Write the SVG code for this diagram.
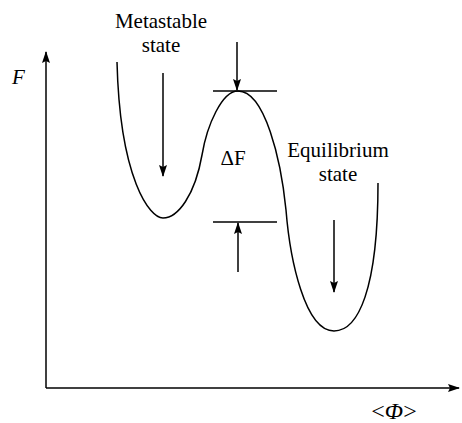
<svg xmlns="http://www.w3.org/2000/svg" width="462" height="423" viewBox="0 0 462 423">
<style>
.ln{stroke:#000;stroke-width:1.5;fill:none}
text{font-family:'Liberation Serif','Times New Roman','DejaVu Serif',serif;fill:#000;font-size:21px}
</style>
<defs>
<marker id="ax" markerUnits="userSpaceOnUse" markerWidth="12" markerHeight="8" viewBox="0 0 12 8" refX="11" refY="4" orient="auto">
<path d="M0,0 L12,4 L0,8 L2,4 Z" fill="#000"/>
</marker>
</defs>
<g id="axes">
<path class="ln" d="M46,388 L46,52" marker-end="url(#ax)"/>
<path class="ln" d="M46,388 L459,388" marker-end="url(#ax)"/>
</g>
<g id="curve">
<path class="ln" d="M117,62 C120,180 150,218 163,218 C178,218 195,195 202,155 C207,125 222,91 238,91 C265,91 281,160 286,210 C290,260 305,331 334,331 C358,331 378,290 378,183"/>
</g>
<g id="levels">
<line class="ln" x1="213" y1="91" x2="277" y2="91"/>
<line class="ln" x1="213" y1="222" x2="277" y2="222"/>
</g>
<g id="connectors">
<line class="ln" x1="163" y1="73" x2="163" y2="176" marker-end="url(#ax)"/>
<line class="ln" x1="237" y1="42" x2="237" y2="90" marker-end="url(#ax)"/>
<line class="ln" x1="238" y1="272" x2="238" y2="223" marker-end="url(#ax)"/>
<line class="ln" x1="334" y1="220" x2="334" y2="292" marker-end="url(#ax)"/>
</g>
<g id="labels">
<text x="161" y="28" text-anchor="middle">Metastable</text>
<text x="161" y="52" text-anchor="middle">state</text>
<text x="338" y="157" text-anchor="middle">Equilibrium</text>
<text x="338" y="181" text-anchor="middle">state</text>
<text x="233" y="165" text-anchor="middle" font-size="21">ΔF</text>
<text x="12" y="84" font-style="italic">F</text>
<text x="394" y="419" text-anchor="middle" style="font-size:24px">&lt;<tspan font-style="italic">Φ</tspan>&gt;</text>
</g>
</svg>
